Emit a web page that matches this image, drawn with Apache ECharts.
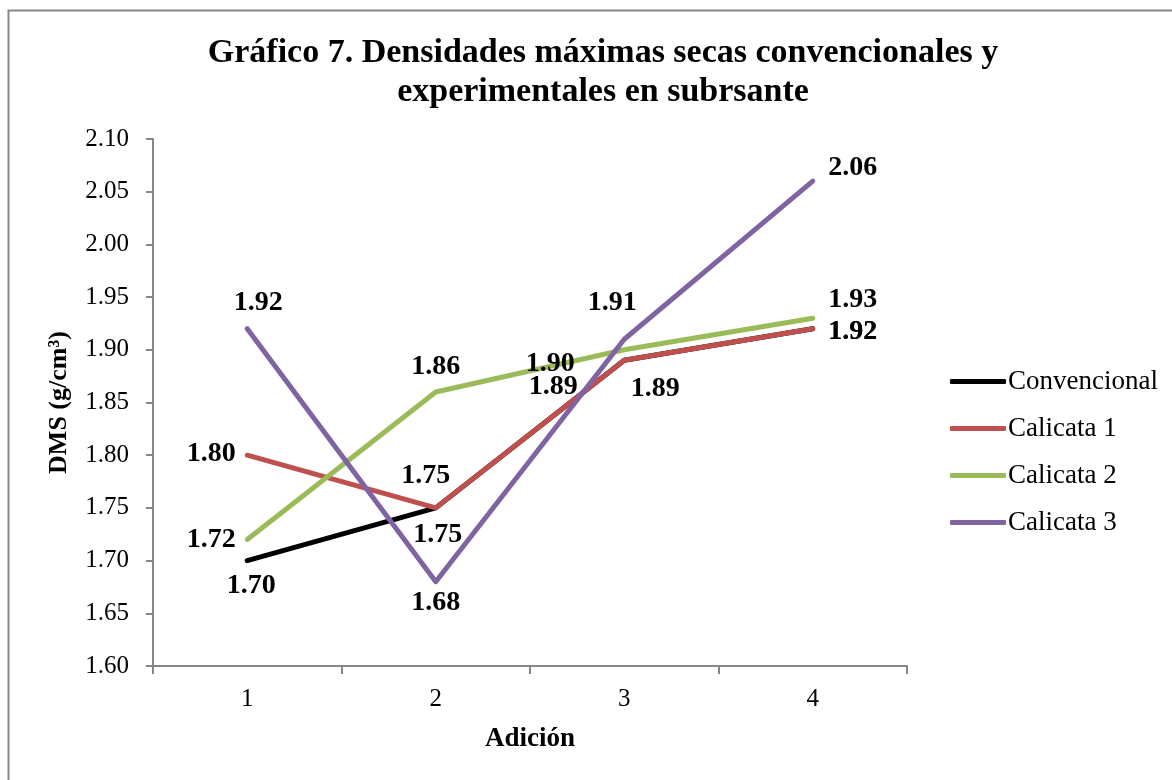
<!DOCTYPE html>
<html>
<head>
<meta charset="utf-8">
<script src="https://cdn.jsdelivr.net/npm/echarts@6/dist/echarts.min.js"></script>
<style>
  html, body { margin: 0; padding: 0; background: #fff; }
  #chart { width: 1172px; height: 780px; }
</style>
</head>
<body>
<div id="chart"></div>
<script>
const categories = ["1", "2", "3", "4"];
const convencional = [1.70, 1.75, 1.89, 1.92];
const calicata1 = [1.80, 1.75, 1.89, 1.92];
const calicata2 = [1.72, 1.86, 1.90, 1.93];
const calicata3 = [1.92, 1.68, 1.91, 2.06];

// label offsets (px) from each point
const offConv = [[4, 25], [2, 27], [31, 28], [40, 3]];
const offCal1 = [[-36, -1], [-10, -32], [-71, 26], [40, 3]];
const offCal2 = [[-36, 0], [0, -25], [-74, 14], [40, -18]];
const offCal3 = [[11, -26], [0, 21], [-12, -36], [40, -13]];

const serif = "Liberation Serif";

function mkSeries(name, data, offs, color) {
  return {
    name: name,
    type: "line",
    symbol: "circle",
    symbolSize: 0.1,
    lineStyle: { width: 5, color: color, cap: "round", join: "round" },
    itemStyle: { color: color },
    data: data.map((v, i) => ({
      value: v,
      label: { offset: offs[i] },
    })),
    label: {
      show: true,
      position: "inside",
      formatter: (p) => p.value.toFixed(2),
      fontFamily: serif,
      fontWeight: "bold",
      fontSize: 28,
      color: "#000",
    },
    emphasis: { disabled: true },
  };
}

const chart = echarts.init(document.getElementById("chart"));
chart.setOption({
  animation: false,
  title: {
    text: "Gráfico 7. Densidades máximas secas convencionales y\nexperimentales en subrsante",
    left: 598,
    top: 29,
    textAlign: "center",
    textStyle: {
      fontFamily: serif,
      fontWeight: "bold",
      fontSize: 34,
      lineHeight: 39,
      color: "#000",
    },
  },
  graphic: [
    {
      type: "rect",
      shape: { x: 8.5, y: 10.5, width: 1200, height: 800 },
      style: { fill: "none", stroke: "#868686", lineWidth: 2 },
      silent: true,
    },
  ],
  legend: {
    orient: "vertical",
    left: 945,
    top: 363,
    itemWidth: 56,
    itemHeight: 5,
    itemGap: 20,
    icon: "roundRect",
    textStyle: { fontFamily: serif, fontSize: 27, color: "#000", padding: [0, 0, 0, -3] },
    data: ["Convencional", "Calicata 1", "Calicata 2", "Calicata 3"],
  },
  grid: { left: 153, right: 265, top: 139, bottom: 114 },
  xAxis: {
    type: "category",
    data: categories,
    name: "Adición",
    nameLocation: "middle",
    nameGap: 60,
    nameTextStyle: { fontFamily: serif, fontWeight: "bold", fontSize: 27, color: "#000" },
    axisLine: { lineStyle: { color: "#868686", width: 2 } },
    axisTick: { show: true, length: 8, lineStyle: { color: "#868686", width: 2 } },
    axisLabel: { fontFamily: serif, fontSize: 25, color: "#000", margin: 21 },
  },
  yAxis: {
    type: "value",
    min: 1.6,
    max: 2.1,
    interval: 0.05,
    name: "DMS (g/cm³)",
    nameLocation: "middle",
    nameGap: 81,
    nameTextStyle: { fontFamily: serif, fontWeight: "bold", fontSize: 26, color: "#000" },
    splitLine: { show: false },
    axisLine: { show: true, lineStyle: { color: "#868686", width: 2 } },
    axisTick: { show: true, length: 7, lineStyle: { color: "#868686", width: 2 } },
    axisLabel: {
      fontFamily: serif,
      fontSize: 25,
      color: "#000",
      margin: 24,
      formatter: (v) => v.toFixed(2),
    },
  },
  series: [
    mkSeries("Convencional", convencional, offConv, "#000000"),
    mkSeries("Calicata 1", calicata1, offCal1, "#C0504D"),
    mkSeries("Calicata 2", calicata2, offCal2, "#9BBB59"),
    mkSeries("Calicata 3", calicata3, offCal3, "#8064A2"),
  ],
});
</script>
</body>
</html>
